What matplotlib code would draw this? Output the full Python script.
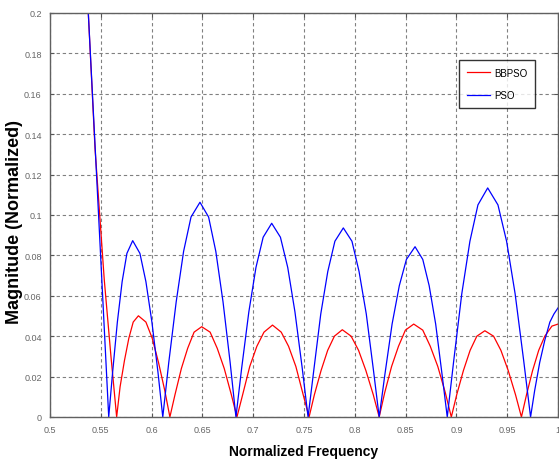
import matplotlib
matplotlib.use("Agg")
import matplotlib.pyplot as plt

# values
pso_freq = [0.5340, 0.5377, 0.5445, 0.5510, 0.5578,
            0.5616, 0.5663, 0.5710, 0.5757, 0.5814, 0.5885, 0.5944, 0.6003, 0.6063, 0.6110,
            0.6169, 0.6242, 0.6315, 0.6388, 0.6476, 0.6561, 0.6632, 0.6703, 0.6773, 0.6830,
            0.6886, 0.6957, 0.7027, 0.7098, 0.7182, 0.7268, 0.7340, 0.7411, 0.7483, 0.7540,
            0.7596, 0.7665, 0.7734, 0.7804, 0.7887, 0.7972, 0.8042, 0.8113, 0.8184, 0.8240,
            0.8296, 0.8367, 0.8438, 0.8508, 0.8593, 0.8669, 0.8732, 0.8796, 0.8859, 0.8910,
            0.8974, 0.9053, 0.9133, 0.9212, 0.9308, 0.9409, 0.9494, 0.9578, 0.9662, 0.9730,
            0.9770, 0.9820, 0.9870, 0.9920, 0.9960, 1.0000]
pso_mag = [0.260, 0.200, 0.133, 0.068, 0.000,
           0.022, 0.047, 0.067, 0.081, 0.0873, 0.081, 0.067, 0.047, 0.022, 0.000,
           0.027, 0.057, 0.082, 0.099, 0.1063, 0.099, 0.082, 0.057, 0.027, 0.000,
           0.024, 0.052, 0.074, 0.089, 0.0959, 0.089, 0.074, 0.052, 0.024, 0.000,
           0.023, 0.051, 0.072, 0.087, 0.0936, 0.087, 0.072, 0.051, 0.023, 0.000,
           0.021, 0.046, 0.065, 0.078, 0.0843, 0.078, 0.065, 0.046, 0.021, 0.000,
           0.028, 0.061, 0.087, 0.105, 0.1134, 0.105, 0.087, 0.061, 0.028, 0.000,
           0.013, 0.027, 0.038, 0.047, 0.051, 0.054]

bbpso_freq = [0.5340, 0.5377, 0.5443, 0.5534, 0.5600, 0.5656,
              0.5690, 0.5733, 0.5776, 0.5819, 0.5870, 0.5944, 0.6006, 0.6068, 0.6130, 0.6180,
              0.6230, 0.6293, 0.6355, 0.6418, 0.6493, 0.6576, 0.6646, 0.6715, 0.6785, 0.6840,
              0.6896, 0.6966, 0.7036, 0.7106, 0.7190, 0.7276, 0.7348, 0.7420, 0.7492, 0.7550,
              0.7602, 0.7668, 0.7733, 0.7799, 0.7877, 0.7964, 0.8037, 0.8109, 0.8182, 0.8240,
              0.8294, 0.8362, 0.8430, 0.8498, 0.8580, 0.8669, 0.8743, 0.8817, 0.8891, 0.8950,
              0.9003, 0.9069, 0.9135, 0.9201, 0.9280, 0.9366, 0.9438, 0.9510, 0.9582, 0.9640,
              0.9690, 0.9750, 0.9810, 0.9870, 0.9940, 1.0000]
bbpso_mag = [0.250, 0.200, 0.133, 0.068, 0.030, 0.000,
             0.015, 0.028, 0.039, 0.047, 0.0501, 0.047, 0.039, 0.027, 0.013, 0.000,
             0.011, 0.024, 0.034, 0.042, 0.0447, 0.042, 0.034, 0.024, 0.011, 0.000,
             0.011, 0.025, 0.035, 0.042, 0.0455, 0.042, 0.035, 0.025, 0.011, 0.000,
             0.011, 0.023, 0.033, 0.040, 0.0432, 0.040, 0.033, 0.023, 0.011, 0.000,
             0.012, 0.025, 0.035, 0.043, 0.0460, 0.043, 0.035, 0.025, 0.012, 0.000,
             0.011, 0.023, 0.033, 0.040, 0.0427, 0.040, 0.033, 0.023, 0.011, 0.000,
             0.011, 0.023, 0.033, 0.040, 0.045, 0.046]

x_ticks = [0.5, 0.55, 0.6, 0.65, 0.7, 0.75, 0.8, 0.85, 0.9, 0.95, 1.0]
x_labels = ["0.5", "0.55", "0.6", "0.65", "0.7", "0.75", "0.8", "0.85", "0.9", "0.95", "1"]
y_ticks = [0, 0.02, 0.04, 0.06, 0.08, 0.1, 0.12, 0.14, 0.16, 0.18, 0.2]
y_labels = ["0", "0.02", "0.04", "0.06", "0.08", "0.1", "0.12", "0.14", "0.16", "0.18", "0.2"]

plt.rcParams["font.family"] = ["Liberation Sans", "DejaVu Sans"]

fig = plt.figure(figsize=(5.59, 4.64), dpi=100)
ax = fig.add_axes([50 / 559, 46 / 464, 508 / 559, 404 / 464])

ax.plot(bbpso_freq, bbpso_mag, color="#ff0000", lw=0.9, label="BBPSO")
ax.plot(pso_freq, pso_mag, color="#0000ff", lw=0.9, label="PSO")

ax.set_xlim(0.5, 1.0)
ax.set_ylim(0, 0.2)
ax.set_xticks(x_ticks)
ax.set_xticklabels(x_labels)
ax.set_yticks(y_ticks)
ax.set_yticklabels(y_labels)
ax.tick_params(direction="in", length=3, width=0.8, color="#555555",
               labelcolor="#666666", labelsize=6.5, pad=6, top=True, right=True)

ax.grid(True, color="#808080", linestyle=(0, (3, 2.5)), linewidth=0.8)
for sp in ax.spines.values():
    sp.set_color("#606060")
    sp.set_linewidth(1.0)

ax.set_xlabel("Normalized Frequency", fontsize=10, fontweight="bold", labelpad=7)
ax.set_ylabel("Magnitude (Normalized)", fontsize=13, fontweight="bold")
ax.yaxis.set_label_coords(-0.053, 0.486)

leg = ax.legend(loc="upper right", bbox_to_anchor=(0.955, 0.884), fontsize=7,
                frameon=True, fancybox=False, shadow=False, borderpad=0.8,
                handlelength=2.4, handletextpad=0.4, labelspacing=1.3,
                borderaxespad=0)
leg.get_frame().set_edgecolor("#000000")
leg.get_frame().set_linewidth(1.0)

fig.savefig("out.png", dpi=100)
